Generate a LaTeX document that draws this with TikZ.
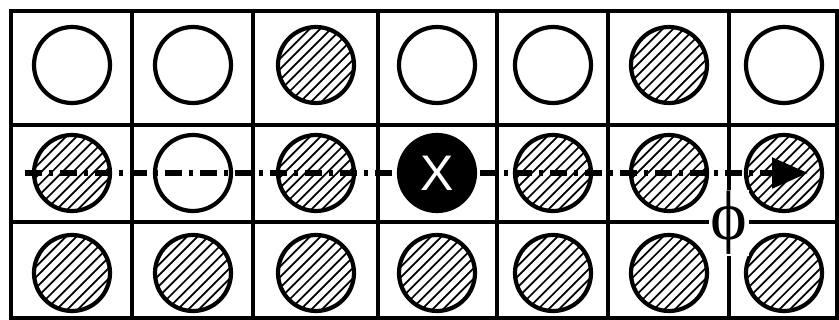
\documentclass[tikz,border=0pt]{standalone}
\usepackage{fontspec}
\setmainfont{Liberation Serif}
\newfontfamily\xfont{Liberation Sans}
\usetikzlibrary{arrows.meta}

\tikzset{
    gridline/.style={line width=4.5pt},
    disk/.style={circle, draw, line width=4.2pt, minimum size=76pt, inner sep=0pt},
    hatched/.style={disk, path picture={
        \foreach \k in {-8,...,8}
            \draw[line width=1.7pt] ([shift={(\k*10.6-50,50)}]path picture bounding box.center) -- ++(100,-100);}},
    blackdisk/.style={disk, fill=black, text=white, font=\xfont\fontsize{50}{50}\selectfont},
    flow/.style={line width=5.5pt, dash pattern=on 17pt off 7pt on 4pt off 7pt, -{Triangle[length=36pt, width=30pt]}},
}

\begin{document}
\begin{tikzpicture}[x=1pt, y=-1pt]
                \useasboundingbox (0,0) rectangle (839,320);
                \draw[gridline] (11,11) rectangle (837,318);
                \foreach \x in {132,253,378,497,608,729} \draw[gridline] (\x,11) -- (\x,318);
                \foreach \y in {125,222} \draw[gridline] (11,\y) -- (837,\y);
                \foreach \cx/\s [count=\i] in {72/disk,193/disk,316/hatched,437/disk,553/disk,669/hatched,784/disk}
                    \node[\s] (a\i) at (\cx,65) {};
                \foreach \i/\cx/\s in {1/72/hatched,2/193/disk,3/316/hatched,5/553/hatched,6/669/hatched,7/784/hatched}
                    \node[\s] (b\i) at (\cx,173) {};
                \foreach \cx [count=\i] in {72,193,316,437,553,669,784}
                    \node[hatched] (c\i) at (\cx,273) {};
                \coordinate (start) at (25,173);
                \coordinate (tip) at (808,173);
                \draw[flow] (start) -- (tip);
                \node[blackdisk] (b4) at (437,173) {X};
                \node[fill=white, inner sep=0pt, minimum width=40pt, minimum height=66pt, font=\fontsize{70}{70}\selectfont] (phi) at (729,223) {ϕ};
\end{tikzpicture}
\end{document}
